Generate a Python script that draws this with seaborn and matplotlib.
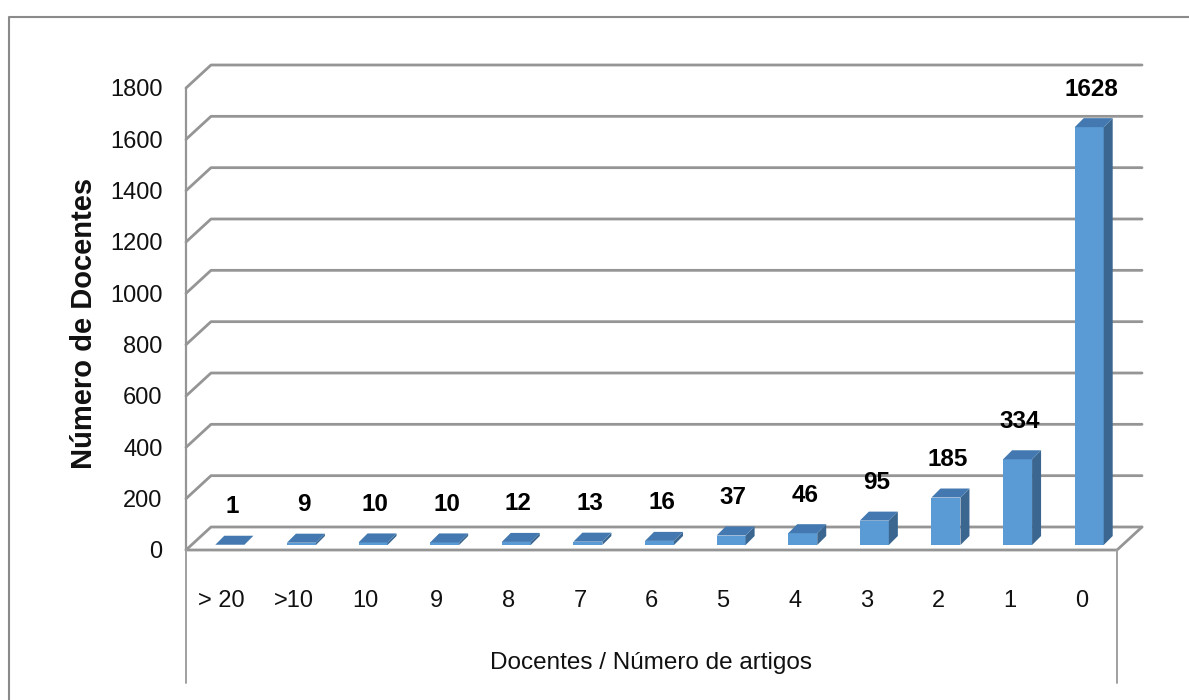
import numpy as np
import pandas as pd
import seaborn as sns
import matplotlib
matplotlib.use("Agg")
import matplotlib.pyplot as plt
from matplotlib.patches import Polygon
from matplotlib.lines import Line2D

# Data
categories = ["> 20", ">10", "10", "9", "8", "7", "6", "5", "4", "3", "2", "1", "0"]
docentes = [1, 9, 10, 10, 12, 13, 16, 37, 46, 95, 185, 334, 1628]
y_ticks = [0, 200, 400, 600, 800, 1000, 1200, 1400, 1600, 1800]

W, H = 1189, 700
sns.set_theme(style="white")
plt.rcParams["font.family"] = ["Liberation Sans", "DejaVu Sans"]

FRONT = "#5B9BD5"
SIDE = "#3A6690"
TOP = "#4379B0"
GRID = "#959595"

fig = plt.figure(figsize=(W / 100, H / 100), dpi=100)
fig.patch.set_facecolor("white")

# front plane of the 3D box: x from 186 px to 1117 px, y from 550 px (0) to 88 px (1800)
ax = fig.add_axes([186 / W, 150 / H, 931 / W, 462 / H])
ax.set_xlim(-0.5, len(categories) - 0.5)
ax.set_ylim(0, 1800)

sx = 931 / len(categories)   # px per category
sy = 462 / 1800              # px per value unit

def px(dx, dy):
    return dx / sx, dy / sy

wall_dx, wall_dy = px(25, 23)   # depth of the box
bar_dx, bar_dy = px(8, 5)       # bar position inside the box
dep_dx, dep_dy = px(9, 9)       # bar depth

df = pd.DataFrame({"cat": categories, "n": docentes})

# back wall grid lines and left wall diagonals
x0, x1 = -0.5, len(categories) - 0.5
for v in y_ticks:
    ax.add_line(Line2D([x0, x0 + wall_dx, x1 + wall_dx], [v, v + wall_dy, v + wall_dy],
                       color=GRID, lw=2.0, clip_on=False, zorder=1))
# floor front edge and right diagonal
ax.add_line(Line2D([x0, x1, x1 + wall_dx], [0, 0, wall_dy], color=GRID, lw=2.0,
                   clip_on=False, zorder=1))
# front vertical axis
ax.add_line(Line2D([x0, x0], [0, 1800], color=GRID, lw=1.6, clip_on=False, zorder=1))
# category table borders below the floor
below = -(683 - 550) / sy
ax.add_line(Line2D([x0, x0], [0, below], color="#a0a0a0", lw=1.4, clip_on=False, zorder=1))
ax.add_line(Line2D([x1, x1], [0, below], color="#a0a0a0", lw=1.4, clip_on=False, zorder=1))

# front faces of the bars
sns.barplot(data=df, x="cat", y="n", color=FRONT, saturation=1, width=0.405,
            ax=ax, zorder=3, order=categories)

for p, val in zip(ax.patches, docentes):
    x = p.get_x() + bar_dx
    w = p.get_width()
    h = p.get_height()
    b = bar_dy
    p.set_x(x)
    p.set_y(b)
    p.set_linewidth(0)
    # side face
    ax.add_patch(Polygon([(x + w, b), (x + w + dep_dx, b + dep_dy),
                          (x + w + dep_dx, b + h + dep_dy), (x + w, b + h)],
                         closed=True, facecolor=SIDE, edgecolor="none", zorder=3, clip_on=False))
    # top face
    ax.add_patch(Polygon([(x, b + h), (x + w, b + h), (x + w + dep_dx, b + h + dep_dy),
                          (x + dep_dx, b + h + dep_dy)],
                         closed=True, facecolor=TOP, edgecolor="none", zorder=4, clip_on=False))
    ax.text(x + w / 2 + 2 / sx, b + h + 38 / sy, f"{val}", ha="center", va="center",
            fontsize=17.5, fontweight="bold", color="black", clip_on=False, zorder=5)

ax.set_yticks(y_ticks)
ax.set_yticklabels([str(v) for v in y_ticks], fontsize=17, color="#111111")
ax.tick_params(axis="y", length=0, pad=17)
ax.set_xticks(range(len(categories)))
ax.set_xticklabels(categories, fontsize=17, color="#111111")
ax.tick_params(axis="x", length=0, pad=29)
ax.set_xlabel("")
ax.set_ylabel("")
for s in ax.spines.values():
    s.set_visible(False)
ax.patch.set_alpha(0)

fig.text(651.5 / W, 1 - 663 / H, "Docentes / Número de artigos", ha="center", va="center",
         fontsize=17.5, color="#111111")
fig.text(84 / W, 1 - 323 / H, "Número de Docentes", ha="center", va="center",
         rotation=90, fontsize=21, fontweight="bold", color="#111111")

# chart frame
fig.add_artist(Line2D([9 / W, 9 / W, 1.01], [-0.01, 1 - 17 / H, 1 - 17 / H],
                      transform=fig.transFigure, color="#8a8a8a", lw=1.5))

fig.savefig("out.png", dpi=100, facecolor="white")
